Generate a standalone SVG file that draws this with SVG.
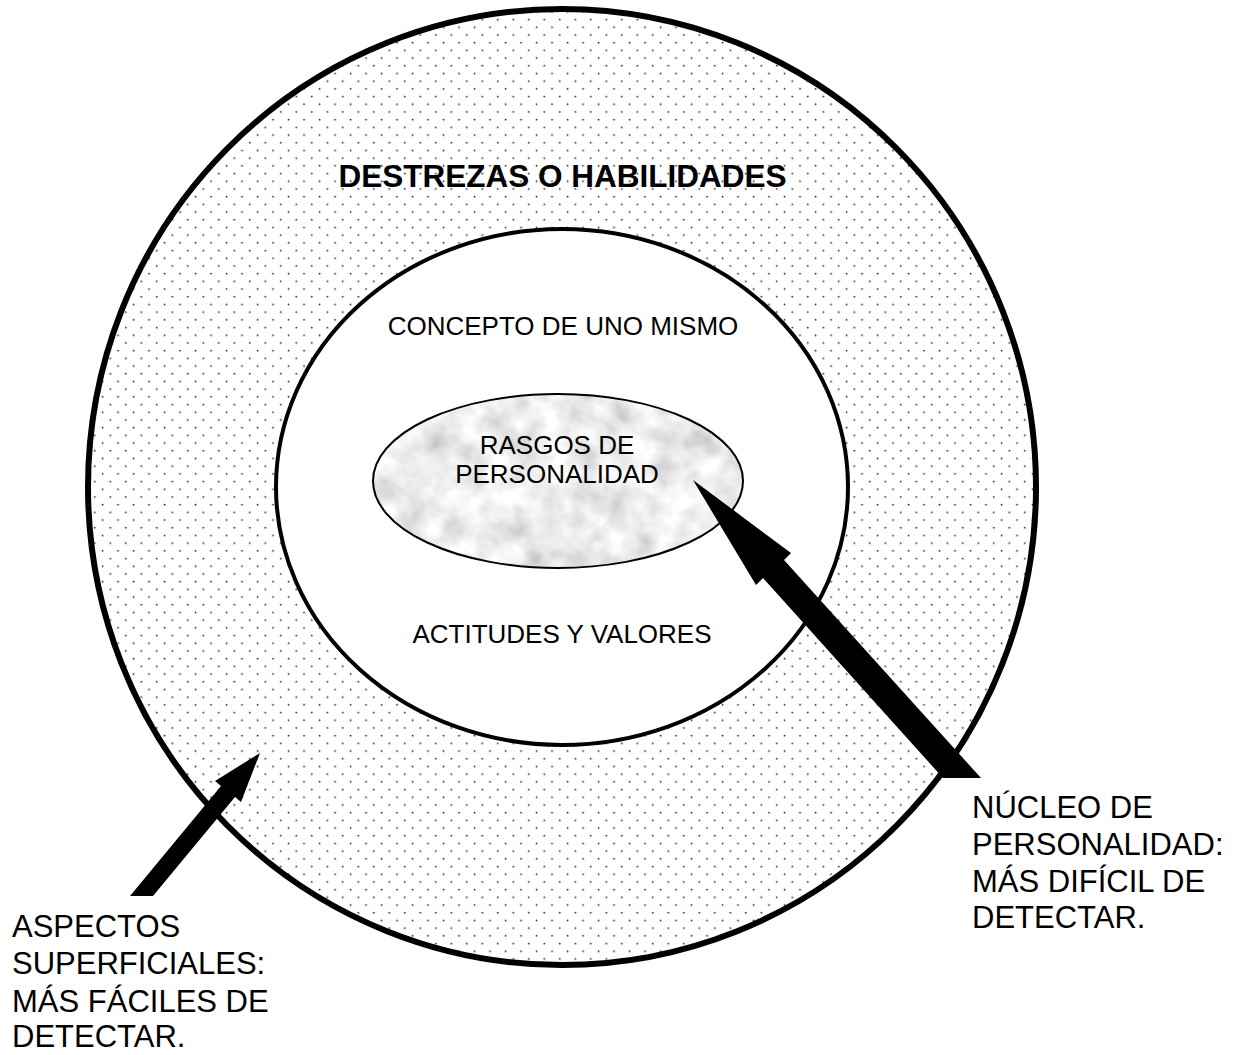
<svg xmlns="http://www.w3.org/2000/svg" width="1247" height="1055" viewBox="0 0 1247 1055">
<style>
.t{font-family:"Liberation Sans",Arial,sans-serif;fill:#000}
.c{text-anchor:middle}
.in{font-size:26px}
.side{font-size:31px}
.title{font-size:31.5px;font-weight:bold}
.ring{fill:none;stroke:#000}
.arrow{fill:#000;stroke:none}
</style>
<defs>
<pattern id="dots" patternUnits="userSpaceOnUse" x="199.8" y="200.8" width="15.5" height="15.4">
<circle cx="3.5" cy="3.5" r="0.9" fill="#222"/>
<circle cx="11.25" cy="11.2" r="0.9" fill="#222"/>
</pattern>
<filter id="marble" x="0" y="0" width="100%" height="100%">
<feTurbulence type="fractalNoise" baseFrequency="0.035" numOctaves="3" seed="7" result="n"/>
<feColorMatrix in="n" type="matrix" values="0.7 0 0 0 0.5  0.7 0 0 0 0.5  0.7 0 0 0 0.5  0 0 0 0 1" result="g"/>
<feComposite in="g" in2="SourceGraphic" operator="in"/>
</filter>
</defs>
<g id="outer">
<ellipse cx="562" cy="487" rx="474" ry="478" fill="#fff"/>
<ellipse cx="562" cy="487" rx="474" ry="478" fill="url(#dots)"/>
<ellipse class="ring" cx="562" cy="487" rx="474" ry="478" stroke-width="6"/>
<text class="t c title" x="562.5" y="187">DESTREZAS O HABILIDADES</text>
</g>
<g id="inner">
<ellipse cx="562" cy="487" rx="286" ry="258" fill="#fff" stroke="#000" stroke-width="4"/>
<text class="t c in" x="563" y="335">CONCEPTO DE UNO MISMO</text>
<text class="t c in" x="562" y="643">ACTITUDES Y VALORES</text>
</g>
<g id="core">
<ellipse cx="558" cy="481" rx="185" ry="87" fill="#ddd" filter="url(#marble)"/>
<ellipse class="ring" cx="558" cy="481" rx="185" ry="87" stroke-width="2"/>
<text class="t c in" x="557" y="454">RASGOS DE</text>
<text class="t c in" x="557" y="483">PERSONALIDAD</text>
</g>
<g id="connectors">
<polygon class="arrow" points="693,480 791,553 784,560 981,778 943,778 763,578 756,585"/>
<polygon class="arrow" points="260,753 241,802 235,797 153,896 130,896 221,786 215,781"/>
</g>
<g id="label-left">
<text class="t side" x="12" y="937">ASPECTOS</text>
<text class="t side" x="12" y="974">SUPERFICIALES:</text>
<text class="t side" x="12" y="1012">MÁS FÁCILES DE</text>
<text class="t side" x="12" y="1047">DETECTAR.</text>
</g>
<g id="label-right">
<text class="t side" x="972" y="818">NÚCLEO DE</text>
<text class="t side" x="972" y="855">PERSONALIDAD:</text>
<text class="t side" x="972" y="892">MÁS DIFÍCIL DE</text>
<text class="t side" x="972" y="928">DETECTAR.</text>
</g>
</svg>
